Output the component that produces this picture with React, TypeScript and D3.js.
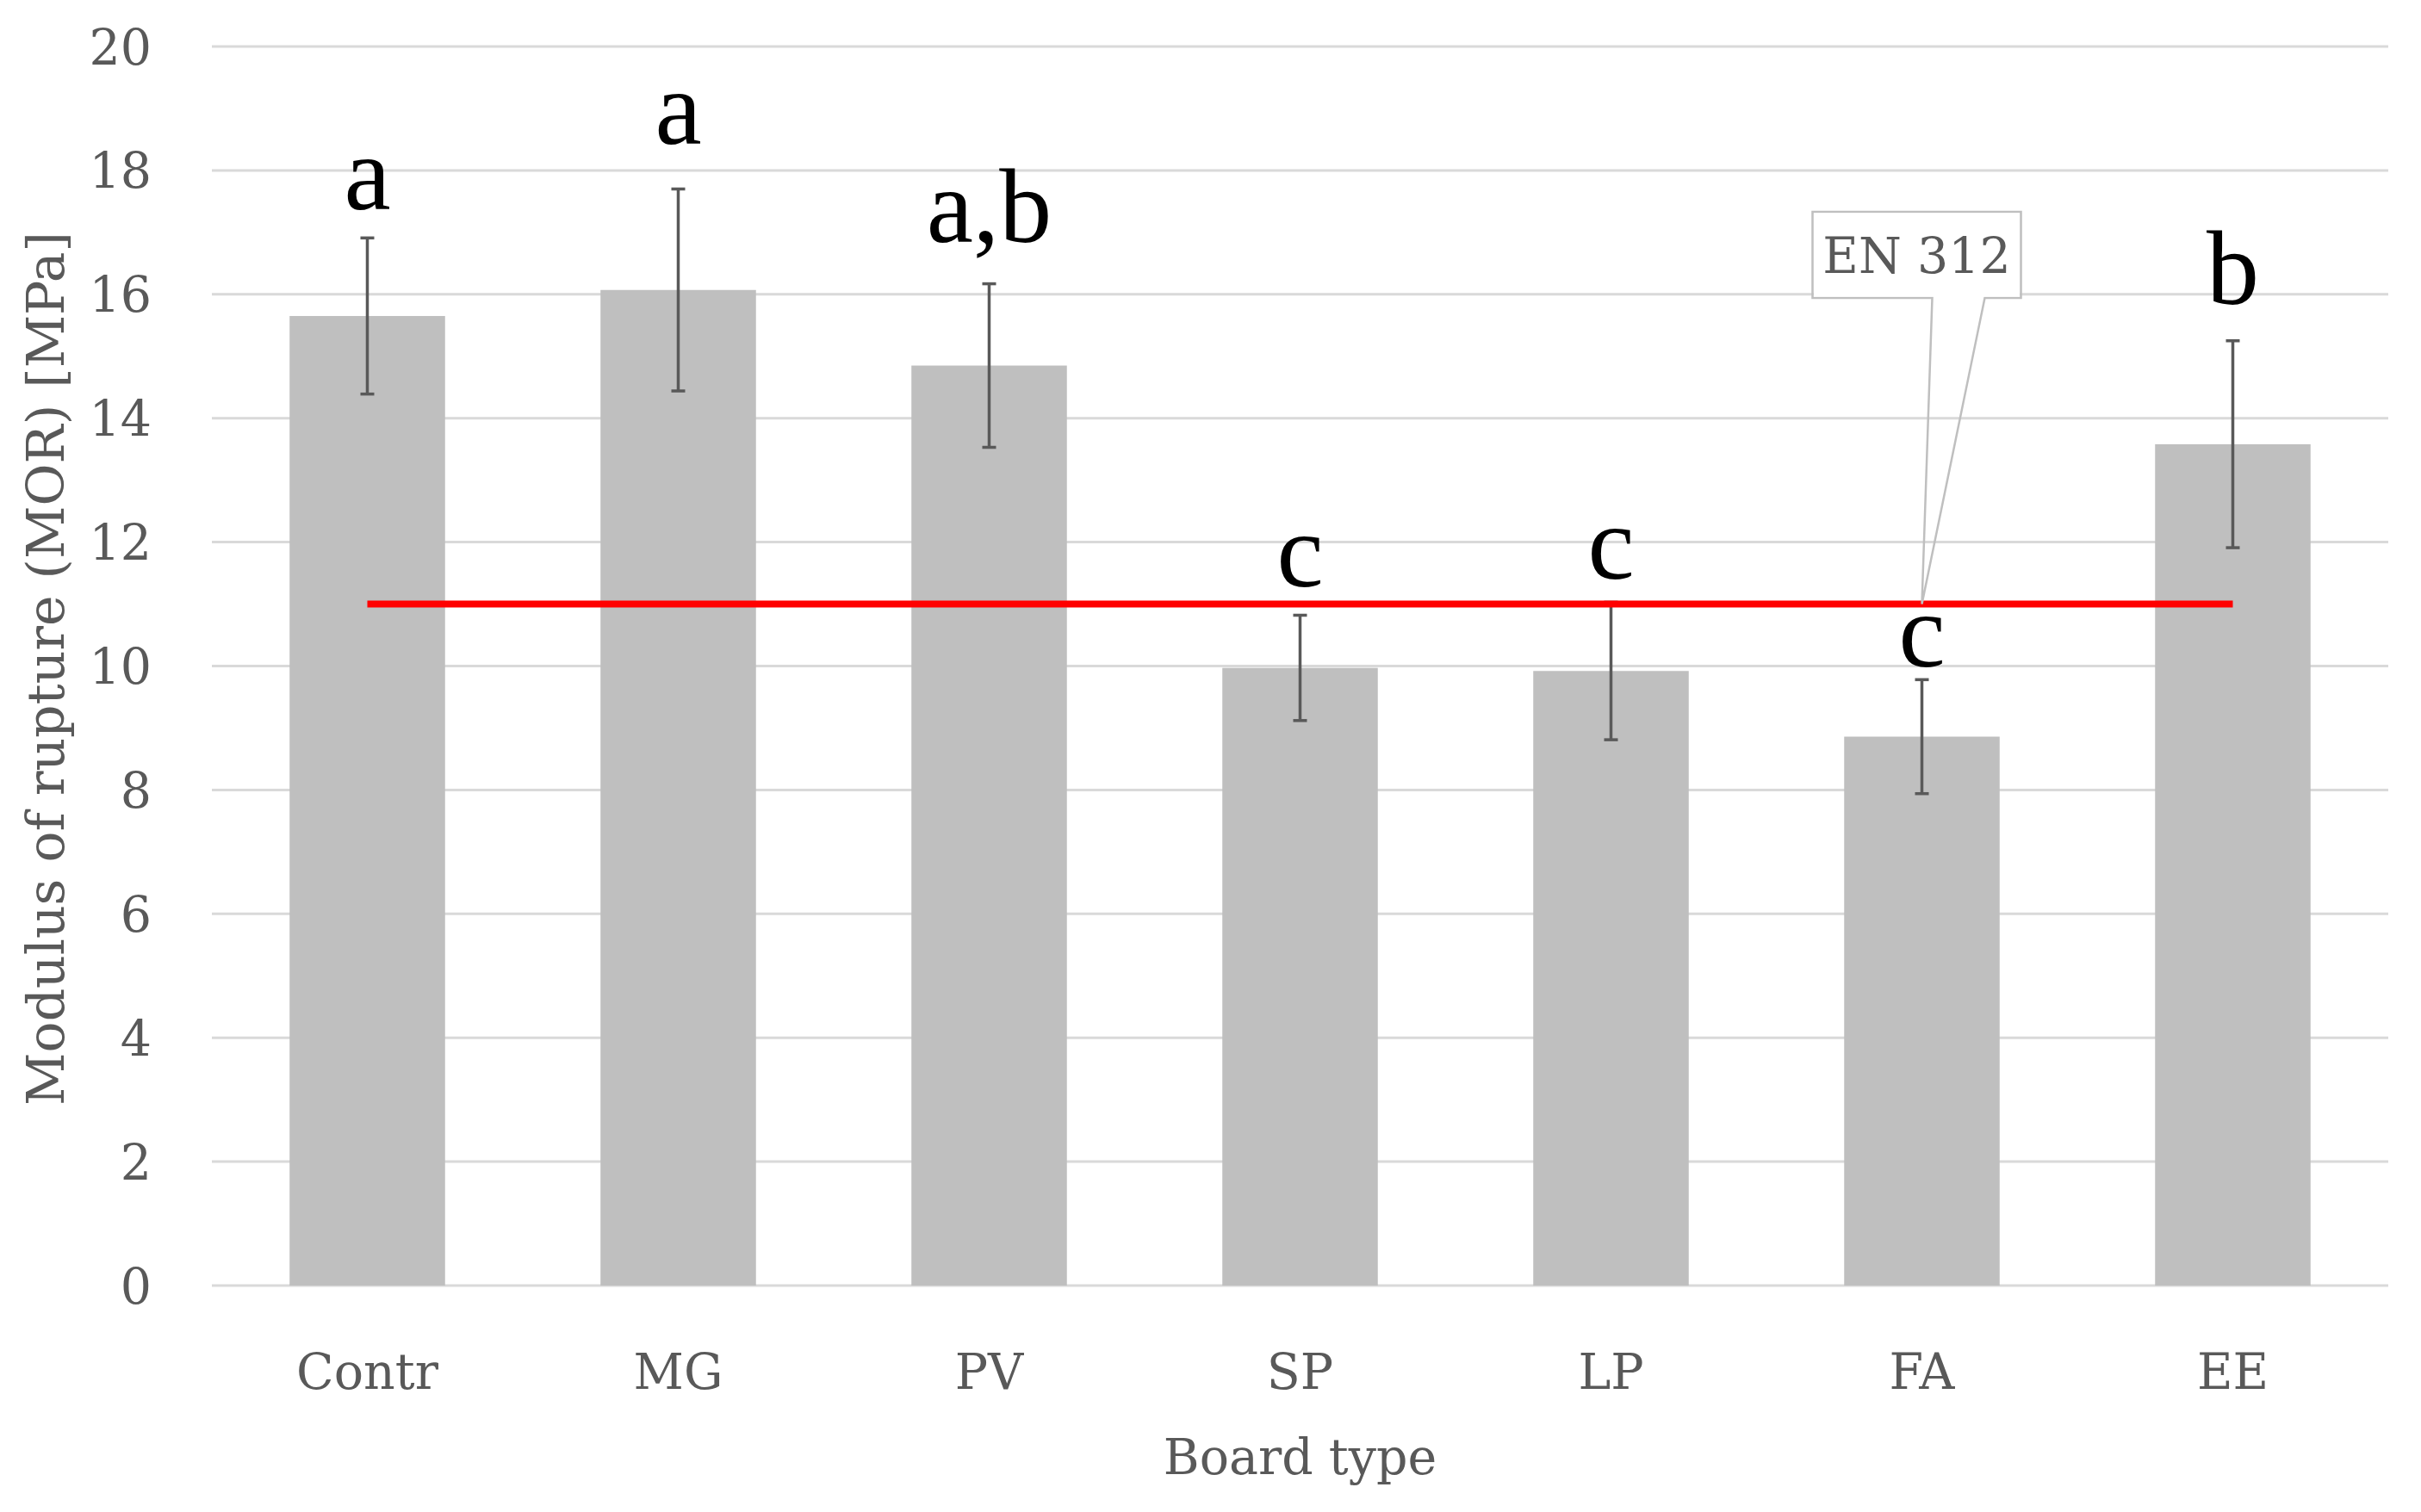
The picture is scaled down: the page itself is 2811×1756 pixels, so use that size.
import React from "react";
import * as d3 from "d3";

const categories = ["Contr", "MG", "PV", "SP", "LP", "FA", "EE"];
const means = [15.65, 16.07, 14.85, 9.97, 9.92, 8.86, 13.58];
const errors = [1.26, 1.63, 1.32, 0.85, 1.11, 0.92, 1.67];
const groupLetters = ["a", "a", "a,b", "c", "c", "c", "b"];
const letterLevels = [17.38, 18.43, 16.84, 11.28, 11.41, 9.99, 15.84];
const yTicks = [0, 2, 4, 6, 8, 10, 12, 14, 16, 18, 20];
const standardValue = 11;
const standardLabel = "EN 312";
const standardAt = "FA";

const W = 2811;
const H = 1756;
const M = { left: 246, right: 38, top: 54, bottom: 263 };

export default function App() {
  const x = d3
    .scaleBand<string>()
    .domain(categories)
    .range([M.left, W - M.right])
    .paddingInner(0.5)
    .paddingOuter(0.25);
  const y = d3.scaleLinear().domain([0, 20]).range([H - M.bottom, M.top]);
  const bw = x.bandwidth();
  const cx = (c: string) => (x(c) as number) + bw / 2;
  const textFont = "'DejaVu Serif', 'Liberation Serif', serif";
  const letterFont = "'Liberation Serif', 'DejaVu Serif', serif";
  const gray = "#595959";
  const fs = 57;

  const first = categories[0];
  const last = categories[categories.length - 1];
  const tipX = cx(standardAt);
  const tipY = y(standardValue);
  const boxX = tipX - 127;
  const boxY = 246;
  const boxW = 242;
  const boxH = 100;

  return (
    <svg
      width={W}
      height={H}
      style={{ position: "absolute", left: 0, top: 0, background: "#fff" }}
    >
      <rect x={0} y={0} width={W} height={H} fill="#fff" />
      {yTicks.map((t) => (
        <g key={t}>
          <line
            x1={M.left}
            x2={W - M.right}
            y1={y(t)}
            y2={y(t)}
            stroke="#d9d9d9"
            strokeWidth={3}
          />
          <text
            x={176}
            y={y(t)}
            dy="0.36em"
            textAnchor="end"
            fontFamily={textFont}
            fontSize={fs}
            fill={gray}
          >
            {t}
          </text>
        </g>
      ))}
      {categories.map((c, i) => (
        <rect
          key={c}
          x={x(c)}
          y={y(means[i])}
          width={bw}
          height={y(0) - y(means[i])}
          fill="#bfbfbf"
        />
      ))}
      {categories.map((c, i) => (
        <g key={c + "e"} stroke="#595959" strokeWidth={3.5}>
          <line x1={cx(c)} x2={cx(c)} y1={y(means[i] + errors[i])} y2={y(means[i] - errors[i])} />
          <line x1={cx(c) - 8} x2={cx(c) + 8} y1={y(means[i] + errors[i])} y2={y(means[i] + errors[i])} />
          <line x1={cx(c) - 8} x2={cx(c) + 8} y1={y(means[i] - errors[i])} y2={y(means[i] - errors[i])} />
        </g>
      ))}
      <line
        x1={cx(first)}
        x2={cx(last)}
        y1={y(standardValue)}
        y2={y(standardValue)}
        stroke="#ff0000"
        strokeWidth={8}
      />
      <path
        d={`M${boxX},${boxY} H${boxX + boxW} V${boxY + boxH} H${tipX + 73} L${tipX},${tipY} L${tipX + 12},${boxY + boxH} H${boxX} Z`}
        fill="none"
        stroke="#bfbfbf"
        strokeWidth={2.5}
      />
      <rect x={boxX + 1.5} y={boxY + 1.5} width={boxW - 3} height={boxH - 3} fill="#fff" />
      <text
        x={boxX + boxW / 2}
        y={boxY + boxH / 2}
        dy="0.36em"
        textAnchor="middle"
        fontFamily={textFont}
        fontSize={fs}
        fill={gray}
      >
        {standardLabel}
      </text>
      {categories.map((c, i) => (
        <text
          key={c + "l"}
          x={cx(c)}
          y={y(letterLevels[i])}
          textAnchor="middle"
          fontFamily={letterFont}
          fontSize={122}
          fill="#000"
        >
          {groupLetters[i]}
        </text>
      ))}
      {categories.map((c) => (
        <text
          key={c + "x"}
          x={cx(c)}
          y={1613}
          textAnchor="middle"
          fontFamily={textFont}
          fontSize={fs}
          fill={gray}
        >
          {c}
        </text>
      ))}
      <text
        x={(M.left + W - M.right) / 2}
        y={1712}
        textAnchor="middle"
        fontFamily={textFont}
        fontSize={fs}
        fill={gray}
      >
        Board type
      </text>
      <text
        transform={`translate(74, ${(y(0) + y(20)) / 2 + 3}) rotate(-90)`}
        textAnchor="middle"
        fontFamily={textFont}
        fontSize={60}
        fill={gray}
      >
        Modulus of rupture (MOR) [MPa]
      </text>
    </svg>
  );
}
